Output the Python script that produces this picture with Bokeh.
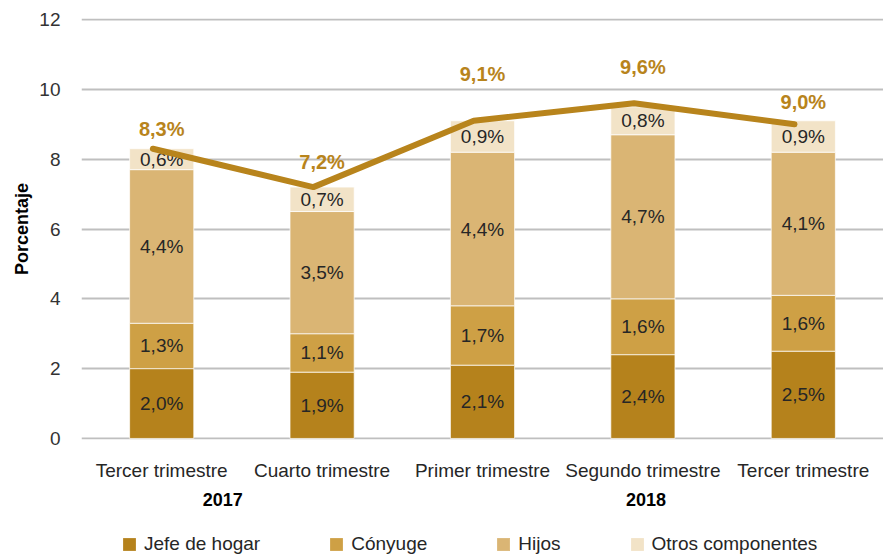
from bokeh.plotting import figure
from bokeh.models import Range1d, FixedTicker, LinearAxis, Legend, LegendItem, ColumnDataSource
from bokeh.transform import dodge
from bokeh.layouts import column
from bokeh.embed import file_html
from bokeh.resources import INLINE
from bokeh.core.properties import value

# ---- data ----
quarters = ["Tercer trimestre", "Cuarto trimestre", "Primer trimestre",
            "Segundo trimestre", "Tercer trimestre"]
years = ["2017", "2018"]
jefe = [2.0, 1.9, 2.1, 2.4, 2.5]
conyuge = [1.3, 1.1, 1.7, 1.6, 1.6]
hijos = [4.4, 3.5, 4.4, 4.7, 4.1]
otros = [0.6, 0.7, 0.9, 0.8, 0.9]
total = [8.3, 7.2, 9.1, 9.6, 9.0]
series_names = ["Jefe de hogar", "Cónyuge", "Hijos", "Otros componentes"]
y_ticks = [0, 2, 4, 6, 8, 10, 12]

# ---- styling / layout (not data) ----
colors = ["#B5821C", "#CEA045", "#DAB574", "#F2E3C7"]
line_color = "#B8841C"
FONT = "Liberation Sans"
year_tick_pos = [38, 302]            # label positions on a 100-per-category scale
top_label_offsets = [-20, -25, -47, -36, -22]

def fmt(v):
    return f"{v:.1f}%".replace(".", ",")

xs = list(range(len(quarters)))
stackers = ["jefe", "conyuge", "hijos", "otros"]
series = [jefe, conyuge, hijos, otros]

data = dict(x=xs, total=total, total_lbl=[fmt(v) for v in total], off=top_label_offsets)
for k, s in zip(stackers, series):
    data[k] = s
src = ColumnDataSource(data)

p = figure(frame_width=802, frame_height=421, output_backend="svg", toolbar_location=None,
           x_range=Range1d(-0.5, len(quarters) - 0.5), y_range=Range1d(-0.03, 12.03),
           min_border_left=81, min_border_top=18, min_border_right=0, min_border_bottom=90)
p.outline_line_color = None
p.background_fill_color = "white"

# bars
rends = p.vbar_stack(stackers, x="x", width=0.4, color=colors, source=src,
                     line_color="white", line_width=1, line_alpha=0.7)

# segment labels
bottom = [0.0] * len(xs)
for s in series:
    mids = [b + v / 2 for b, v in zip(bottom, s)]
    lsrc = ColumnDataSource(dict(x=xs, y=mids, t=[fmt(v) for v in s]))
    p.text(x="x", y="y", text="t", source=lsrc, text_align="center", text_baseline="middle",
           text_font=value(FONT), text_font_size="19px", text_color="#262626")
    bottom = [b + v for b, v in zip(bottom, s)]

# total line
p.line(x=dodge("x", -0.055, range=p.x_range), y="total", source=src, line_color=line_color,
       line_width=6, line_cap="round", line_join="round")
p.text(x="x", y="total", text="total_lbl", y_offset="off", source=src, text_align="center",
       text_baseline="middle", text_font=value(FONT), text_font_size="20px",
       text_font_style="bold", text_color=line_color)

# grid
p.xgrid.visible = False
p.ygrid.ticker = FixedTicker(ticks=y_ticks)
p.ygrid.grid_line_color = "#BFBFBF"
p.ygrid.grid_line_width = 2

# y axis
p.yaxis.ticker = FixedTicker(ticks=y_ticks)
p.yaxis.axis_line_color = None
p.yaxis.major_tick_line_color = None
p.yaxis.minor_tick_line_color = None
p.yaxis.major_tick_out = 0
p.yaxis.major_label_standoff = 21
p.yaxis.major_label_text_font = FONT
p.yaxis.major_label_text_font_size = "19px"
p.yaxis.major_label_text_color = "#333333"
p.yaxis.axis_label = "Porcentaje"
p.yaxis.axis_label_text_font = FONT
p.yaxis.axis_label_text_font_size = "18px"
p.yaxis.axis_label_text_font_style = "bold"
p.yaxis.axis_label_text_color = "#000000"
p.yaxis.axis_label_standoff = 4

# x axis (quarters)
xa = p.xaxis[0]
xa.ticker = FixedTicker(ticks=xs)
xa.major_label_overrides = {i: q for i, q in zip(xs, quarters)}
xa.axis_line_color = None
xa.major_tick_line_color = None
xa.minor_tick_line_color = None
xa.major_tick_out = 0
xa.major_label_standoff = 20
xa.major_label_text_font = FONT
xa.major_label_text_font_size = "19px"
xa.major_label_text_color = "#262626"

# year axis
p.extra_x_ranges = {"yr": Range1d(-50, len(quarters) * 100 - 50)}
ya = LinearAxis(x_range_name="yr", ticker=FixedTicker(ticks=year_tick_pos),
                major_label_overrides={pos: y for pos, y in zip(year_tick_pos, years)})
ya.axis_line_color = None
ya.major_tick_line_color = None
ya.minor_tick_line_color = None
ya.major_tick_out = 0
ya.major_label_standoff = 9
ya.major_label_text_font = FONT
ya.major_label_text_font_size = "18px"
ya.major_label_text_font_style = "bold"
ya.major_label_text_color = "#000000"
p.add_layout(ya, "below")

# legend strip (separate small figure below the chart; its bars lie outside its view)
lg = figure(width=883, height=26, output_backend="svg", toolbar_location=None,
            x_range=Range1d(-0.5, len(quarters) - 0.5), y_range=Range1d(100, 101), min_border=0)
lg.axis.visible = False
lg.grid.visible = False
lg.outline_line_color = None
swatches = lg.vbar_stack(stackers, x="x", width=0.4, color=colors, source=src, line_color=None)
legend = Legend(items=[LegendItem(label=n, renderers=[r]) for n, r in zip(series_names, swatches)],
                orientation="horizontal", location=(40, 0), padding=0, margin=0,
                spacing=68, label_standoff=7, glyph_width=16, glyph_height=16,
                label_height=20, label_text_font=FONT, label_text_font_size="19px",
                label_text_color="#262626", border_line_alpha=0, background_fill_alpha=0)
lg.add_layout(legend, "center")

layout = column(p, lg, spacing=0)
open("out.html", "w").write(file_html(layout, INLINE))
